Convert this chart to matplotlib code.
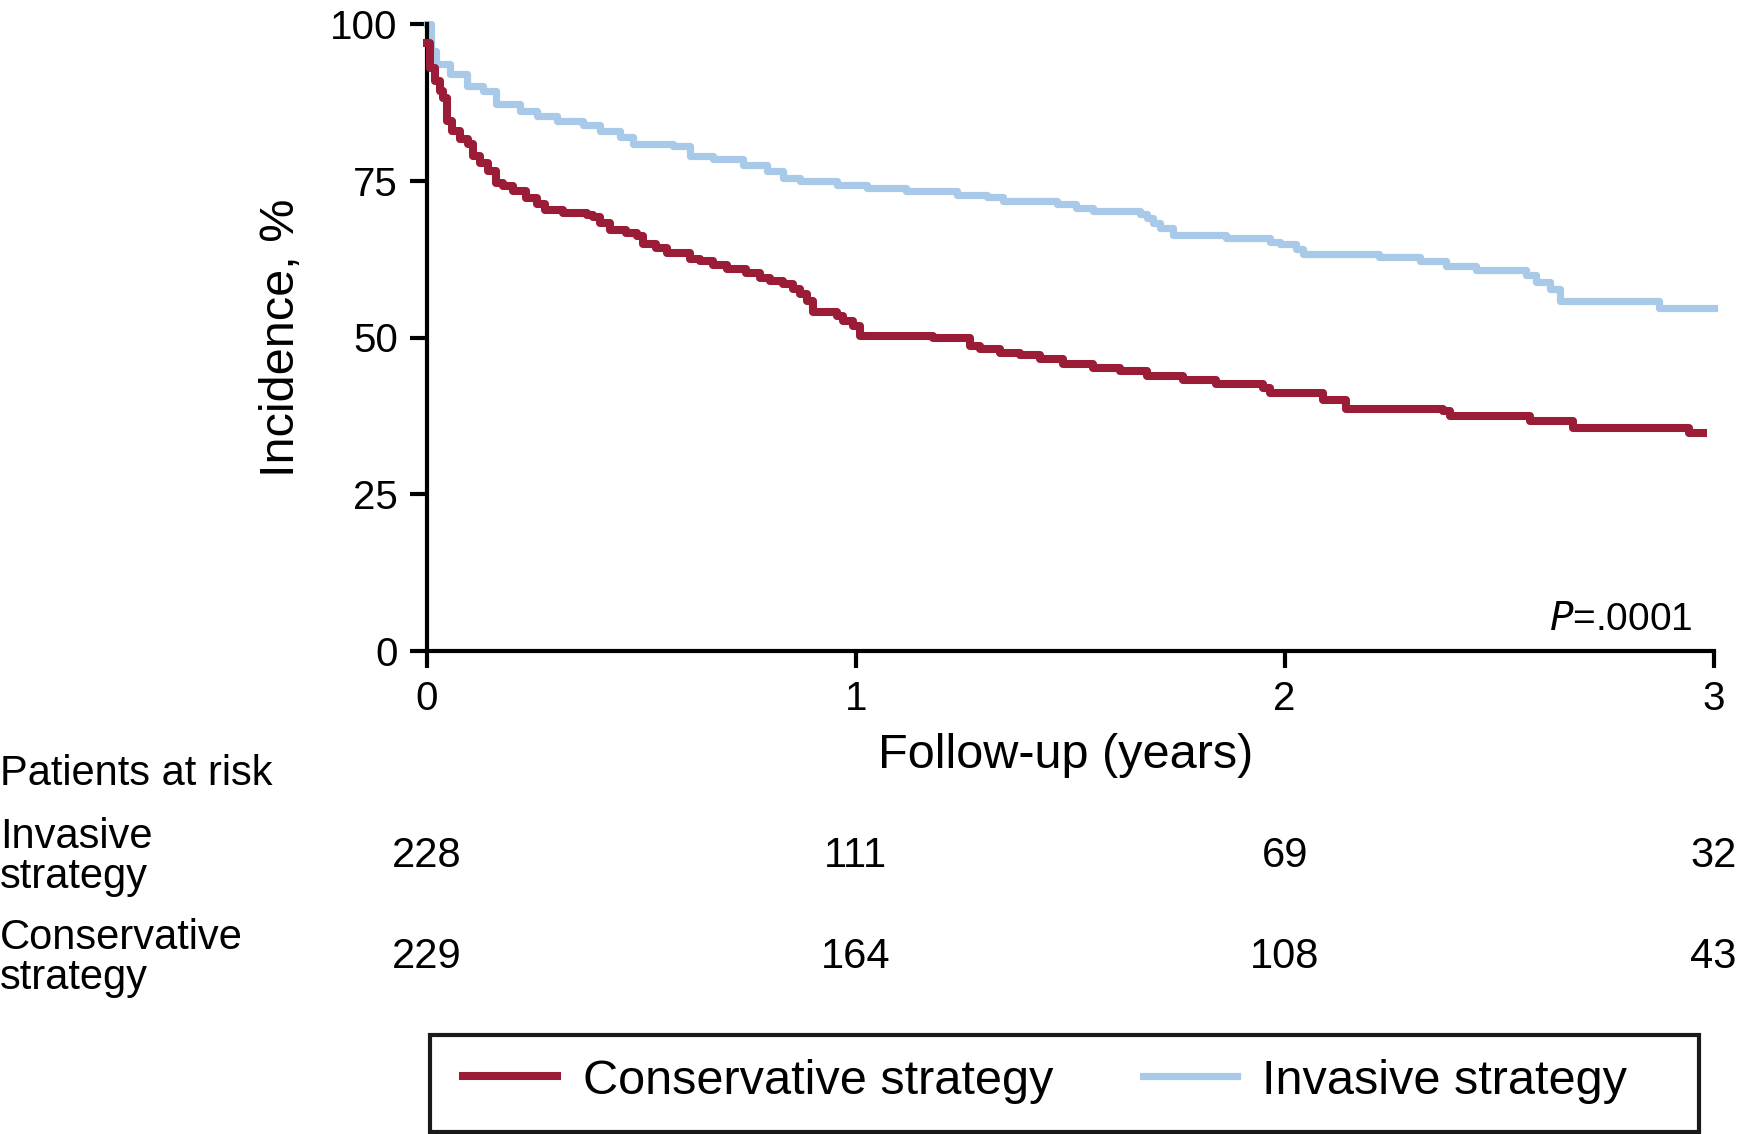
import matplotlib
matplotlib.use('Agg')
import matplotlib.pyplot as plt
from matplotlib.patches import Rectangle
from matplotlib.transforms import blended_transform_factory

plt.rcParams['font.family'] = ['Liberation Sans', 'DejaVu Sans']

# Kaplan-Meier style step curves (years, %)
invasive_t = [0, 0.01, 0.02, 0.054, 0.093, 0.131, 0.162, 0.217, 0.256, 0.302, 0.364,
              0.403, 0.45, 0.481, 0.574, 0.613, 0.667, 0.737, 0.792, 0.831, 0.869,
              0.955, 1.025, 1.118, 1.235, 1.305, 1.343, 1.468, 1.514, 1.553, 1.662,
              1.678, 1.693, 1.709, 1.740, 1.864, 1.965, 1.988, 2.027, 2.043, 2.221,
              2.315, 2.377, 2.447, 2.563, 2.587, 2.618, 2.641, 2.874, 3.0]
invasive_v = [100, 95.7, 93.6, 92.0, 90.1, 89.3, 87.2, 86.1, 85.3, 84.5, 83.9,
              82.9, 81.9, 80.9, 80.5, 78.9, 78.4, 77.5, 76.6, 75.5, 75.0,
              74.3, 73.9, 73.3, 72.8, 72.4, 71.8, 71.3, 70.7, 70.2, 69.7,
              69.1, 68.3, 67.4, 66.3, 65.8, 65.3, 64.9, 64.1, 63.3, 62.8,
              62.2, 61.4, 60.7, 60.0, 58.9, 57.8, 55.8, 54.7, 54.7]

conservative_t = [0, 0.007, 0.019, 0.03, 0.038, 0.046, 0.058, 0.077, 0.096, 0.108,
                  0.124, 0.143, 0.162, 0.178, 0.201, 0.232, 0.256, 0.275, 0.318, 0.372,
                  0.388, 0.403, 0.427, 0.465, 0.489, 0.504, 0.535, 0.559, 0.613, 0.636,
                  0.667, 0.699, 0.745, 0.776, 0.8, 0.831, 0.854, 0.869, 0.885, 0.9,
                  0.955, 0.970, 0.994, 1.009, 1.180, 1.266, 1.289, 1.336, 1.382, 1.429,
                  1.483, 1.553, 1.615, 1.678, 1.763, 1.841, 1.949, 1.965, 2.089, 2.144,
                  2.369, 2.385, 2.571, 2.672, 2.944, 2.975]
conservative_v = [97, 93.0, 90.9, 89.3, 88.2, 84.5, 82.9, 81.6, 80.8, 78.9,
                  77.9, 76.6, 74.7, 74.2, 73.4, 72.3, 71.3, 70.4, 69.9, 69.6,
                  69.2, 68.3, 67.2, 66.7, 66.2, 64.9, 64.3, 63.5, 62.5, 62.2,
                  61.5, 60.9, 60.3, 59.5, 59.0, 58.5, 57.7, 56.9, 55.8, 54.0,
                  53.4, 52.6, 51.8, 50.2, 49.9, 48.6, 48.1, 47.6, 47.2, 46.5,
                  45.7, 45.2, 44.7, 43.9, 43.3, 42.6, 42.0, 41.1, 40.1, 38.6,
                  38.3, 37.5, 36.7, 35.6, 34.7, 34.7]

risk_years = [0, 1, 2, 3]
risk_invasive = [228, 111, 69, 32]
risk_conservative = [229, 164, 108, 43]

red = '#9b1c36'
blue = '#a9c9e8'
W, H = 1738, 1134

fig = plt.figure(figsize=(W / 100, H / 100), dpi=100)
ax = fig.add_axes([427 / W, 1 - 651 / H, 1286.5 / W, 627 / H])

ax.step(conservative_t, conservative_v, where='post', color=red, lw=5.8,
        clip_on=False, label='Conservative strategy', zorder=3)
ax.step(invasive_t, invasive_v, where='post', color=blue, lw=5.2,
        clip_on=False, label='Invasive strategy', zorder=2)

ax.set_xlim(0, 3)
ax.set_ylim(0, 100)
ax.set_xticks(risk_years)
ax.set_yticks([0, 25, 50, 75, 100])
ax.tick_params(direction='out', length=12, width=3, labelsize=29, pad=9)
for s in ['top', 'right']:
    ax.spines[s].set_visible(False)
for s in ['left', 'bottom']:
    ax.spines[s].set_linewidth(3)

ax.text((1693 - 427) / 1286.5, (651 - 630) / 627, '$P$=.0001', transform=ax.transAxes,
        ha='right', va='baseline', fontsize=28)

fig.text(281 / W, 1 - 338 / H, 'Incidence, %', rotation=90, ha='center',
         va='center', fontsize=35)
fig.text(1066 / W, 1 - 768 / H, 'Follow-up (years)', ha='center',
         va='baseline', fontsize=35)

# patients at risk table (baseline of the last line)
fig.text(0, 1 - 785 / H, 'Patients at risk', ha='left', va='baseline', fontsize=30)
fig.text(0, 1 - 888 / H, 'Invasive\nstrategy', ha='left', va='baseline',
         fontsize=30, linespacing=1.0)
fig.text(0, 1 - 989 / H, 'Conservative\nstrategy', ha='left', va='baseline',
         fontsize=30, linespacing=1.0)

trans = blended_transform_factory(ax.transData, fig.transFigure)
for x, n in zip(risk_years, risk_invasive):
    ax.text(x, 1 - 867 / H, str(n), transform=trans, ha='center', va='baseline',
            fontsize=30, clip_on=False)
for x, n in zip(risk_years, risk_conservative):
    ax.text(x, 1 - 968 / H, str(n), transform=trans, ha='center', va='baseline',
            fontsize=30, clip_on=False)

# legend with a separate frame
fig.patches.append(Rectangle((430 / W, 1 - 1131.5 / H), 1269 / W, 96.5 / H,
                             transform=fig.transFigure, fill=False,
                             edgecolor='#1a1a1a', lw=3))
fig.legend(loc='center left', bbox_to_anchor=(463 / W, 1 - 1081 / H), ncol=2,
           frameon=False, fontsize=35, borderpad=0, borderaxespad=0,
           handlelength=1.93, handletextpad=0.53, columnspacing=1.85)

fig.savefig('out.png', dpi=100)
